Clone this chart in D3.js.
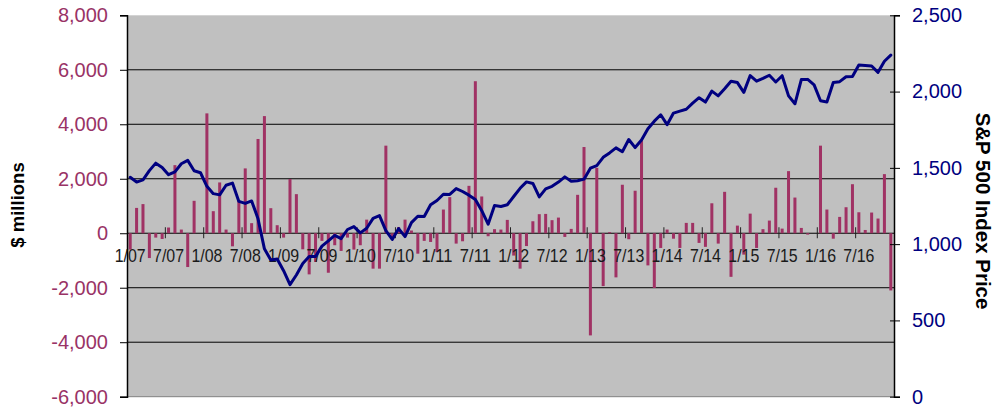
<!DOCTYPE html>
<html>
<head>
<meta charset="utf-8">
<script src="https://cdn.jsdelivr.net/npm/d3@7"></script>
<style>
  html, body { margin: 0; padding: 0; background: #fff; }
  svg { display: block; }
</style>
</head>
<body>
<svg id="chart" width="996" height="409"></svg>
<script>
// Monthly categories, January 2007 through December 2016
const years = ["07", "08", "09", "10", "11", "12", "13", "14", "15", "16"];
const categories = [];
years.forEach(y => { for (let m = 1; m <= 12; m++) categories.push(m + "/" + y); });

// Labelled categories on the x axis (every six months)
const tickLabels = ["1/07", "7/07", "1/08", "7/08", "1/09", "7/09", "1/10", "7/10",
  "1/11", "7/11", "1/12", "7/12", "1/13", "7/13", "1/14", "7/14", "1/15", "7/15",
  "1/16", "7/16"];

// Monthly net flows, $ millions (left axis)
const flows = [
  -600, 930, 1070, -910, -160, -210, 210, 2500, 135, -1240, 1190, 0,
  4400, 810, 1865, 135, -480, 1200, 2380, 370, 3460, 4300, 920, 295,
  -160, 1990, 1435, -590, -1510, -1055, -280, -1450, -440, -650, -160, -600,
  -440, 500, -1300, -1300, 3215, -150, 230, 500, 100, -750, -280, -320,
  -690, 870, 1325, -380, -295, 1740, 5580, 1350, -110, 150, 135, 490,
  -820, -1300, -470, 440, 700, 710, 480, 575, -135, 160, 1410, 3165,
  -3750, 2400, -1940, 40, -1620, 1780, -220, 1560, 3400, -1180, -2010, -540,
  135, -200, -540, 380, 380, -355, -500, 1100, -380, 1520, -1600, 280,
  -785, 720, -540, 150, 465, 1670, 170, 2280, 1310, 195, -50, 0,
  3215, 870, -200, 600, 955, 1800, 770, 120, 760, 540, 2170, -2100
];

// S&P 500 month-end index level (right axis)
const spx = [
  1438, 1407, 1421, 1482, 1531, 1503, 1455, 1474, 1527, 1549, 1481, 1468,
  1379, 1331, 1323, 1386, 1400, 1280, 1267, 1283, 1166, 969, 896, 903,
  826, 735, 798, 873, 919, 919, 987, 1021, 1057, 1036, 1096, 1115,
  1074, 1104, 1169, 1187, 1089, 1031, 1102, 1049, 1141, 1183, 1181, 1258,
  1286, 1327, 1326, 1364, 1345, 1321, 1292, 1219, 1131, 1253, 1247, 1258,
  1312, 1366, 1408, 1398, 1310, 1362, 1379, 1407, 1441, 1412, 1416, 1426,
  1498, 1515, 1569, 1598, 1631, 1606, 1686, 1633, 1682, 1757, 1806, 1848,
  1783, 1859, 1872, 1884, 1924, 1960, 1931, 2003, 1972, 2018, 2068, 2059,
  1995, 2105, 2068, 2086, 2107, 2063, 2104, 1972, 1920, 2079, 2080, 2044,
  1940, 1932, 2060, 2065, 2097, 2099, 2174, 2171, 2168, 2126, 2199, 2239
];

const leftTicks = [-6000, -4000, -2000, 0, 2000, 4000, 6000, 8000];
const rightTicks = [0, 500, 1000, 1500, 2000, 2500];

const plot = { left: 127, right: 894, top: 15.3, bottom: 396.7 };
const barColor = "#A03264";
const lineColor = "#000080";

const svg = d3.select("#chart");

const x = d3.scaleBand().domain(categories)
  .range([plot.left, plot.right]).paddingInner(0.53).paddingOuter(0.265);
const yL = d3.scaleLinear().domain([-6000, 8000]).range([plot.bottom, plot.top]);
const yR = d3.scaleLinear().domain([0, 2500]).range([plot.bottom, plot.top]);
const cx = c => x(c) + x.bandwidth() / 2;
const slotStart = c => x(c) - x.step() * x.paddingInner() / 2;

// Plot area
svg.append("rect")
  .attr("x", plot.left).attr("y", plot.top)
  .attr("width", plot.right - plot.left).attr("height", plot.bottom - plot.top)
  .attr("fill", "#C0C0C0");
svg.append("line")
  .attr("x1", plot.left).attr("x2", plot.right)
  .attr("y1", plot.bottom).attr("y2", plot.bottom)
  .attr("stroke", "#808080").attr("stroke-width", 1);

// Horizontal gridlines
svg.append("g").selectAll("line")
  .data(leftTicks.filter(v => v > -6000 && v < 8000))
  .join("line")
  .attr("x1", plot.left).attr("x2", plot.right)
  .attr("y1", d => yL(d)).attr("y2", d => yL(d))
  .attr("stroke", "#000").attr("stroke-width", 1);

// Flow bars
svg.append("g").selectAll("rect")
  .data(flows)
  .join("rect")
  .attr("x", (d, i) => x(categories[i]))
  .attr("width", x.bandwidth())
  .attr("y", d => Math.min(yL(d), yL(0)))
  .attr("height", d => Math.abs(yL(d) - yL(0)))
  .attr("fill", barColor);

// Category axis along zero
const zeroY = yL(0);
const xAxis = svg.append("g")
  .attr("transform", `translate(0,${zeroY})`)
  .call(d3.axisBottom(x).tickValues(tickLabels).tickSize(0).tickPadding(15.5));
xAxis.select(".domain").remove();
xAxis.selectAll("text")
  .attr("fill", "#1a1a1a")
  .attr("textLength", 31)
  .attr("lengthAdjust", "spacingAndGlyphs")
  .style("font-family", "'Liberation Sans', Arial, sans-serif")
  .style("font-size", "19px");
svg.append("g").selectAll("line")
  .data(tickLabels.slice(1))
  .join("line")
  .attr("x1", c => slotStart(c)).attr("x2", c => slotStart(c))
  .attr("y1", zeroY - 6).attr("y2", zeroY + 5)
  .attr("stroke", "#222").attr("stroke-width", 1);

// S&P 500 line
const line = d3.line()
  .x((d, i) => cx(categories[i]))
  .y(d => yR(d));
svg.append("path")
  .datum(spx)
  .attr("d", line)
  .attr("fill", "none")
  .attr("stroke", lineColor)
  .attr("stroke-width", 3)
  .attr("stroke-linejoin", "round")
  .attr("stroke-linecap", "round");

// Left value axis
const fmt = d => (d < 0 ? "-" : "") + d3.format(",")(Math.abs(d));
const leftAxis = svg.append("g")
  .attr("transform", `translate(${plot.left},0)`)
  .call(d3.axisLeft(yL).tickValues(leftTicks).tickSize(7).tickPadding(12).tickFormat(fmt));
leftAxis.select(".domain").attr("stroke", "#000").attr("stroke-width", 1.5);
leftAxis.selectAll(".tick line").attr("stroke", "#000");
leftAxis.selectAll("text")
  .attr("fill", "#993366")
  .style("font-family", "'Liberation Sans', Arial, sans-serif")
  .style("font-size", "20px");

// Right value axis
const rightAxis = svg.append("g")
  .attr("transform", `translate(${plot.right},0)`)
  .call(d3.axisRight(yR).tickValues(rightTicks).tickSize(6).tickPadding(12).tickFormat(d3.format(",")));
rightAxis.select(".domain").attr("stroke", "#000").attr("stroke-width", 1.5);
rightAxis.selectAll(".tick line").attr("stroke", "#000").attr("x1", -4);
rightAxis.selectAll("text")
  .attr("fill", lineColor)
  .style("font-family", "'Liberation Sans', Arial, sans-serif")
  .style("font-size", "20px");

// Axis titles
svg.append("text")
  .attr("transform", "translate(17.5,205) rotate(-90)")
  .attr("text-anchor", "middle").attr("dominant-baseline", "central")
  .style("font-family", "'Liberation Sans', Arial, sans-serif")
  .style("font-size", "18.5px").style("font-weight", "bold")
  .attr("fill", "#000")
  .text("$ millions");
svg.append("text")
  .attr("transform", "translate(983,211) rotate(90)")
  .attr("text-anchor", "middle").attr("dominant-baseline", "central")
  .style("font-family", "'Liberation Sans', Arial, sans-serif")
  .style("font-size", "20.5px").style("font-weight", "bold")
  .attr("fill", "#000")
  .text("S&P 500 Index Price");
</script>
</body>
</html>
